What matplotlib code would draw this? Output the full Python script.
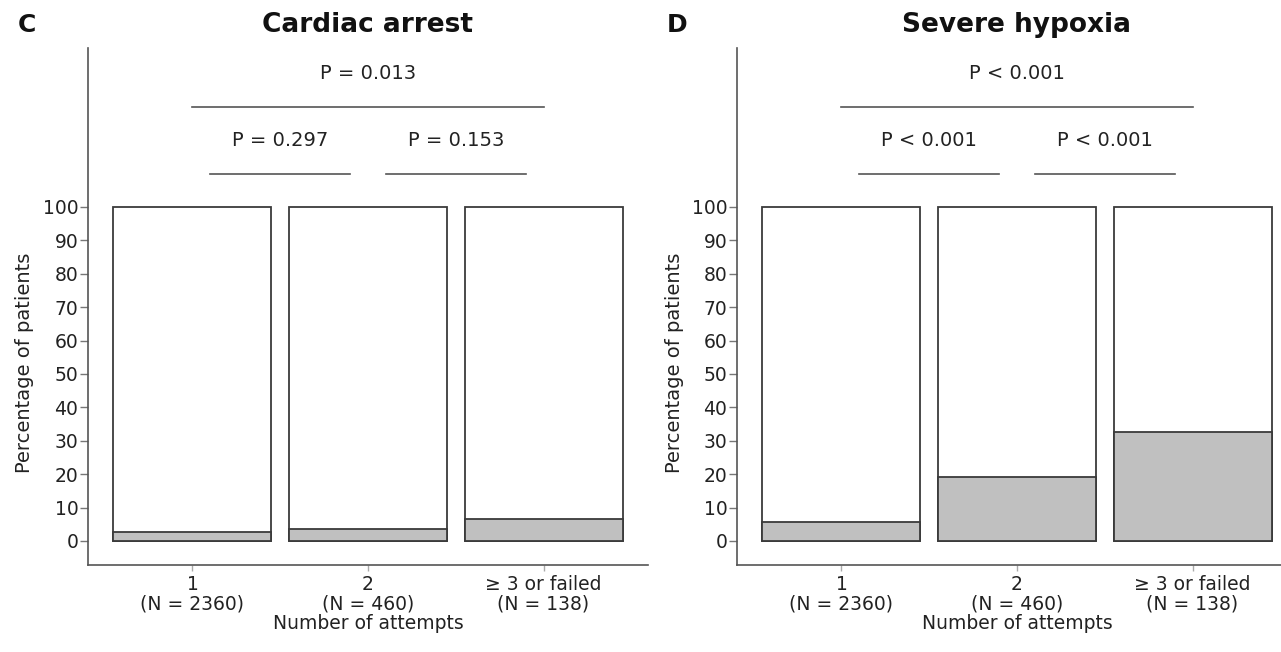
import matplotlib
matplotlib.use("Agg")
import matplotlib.pyplot as plt

# Data
attempt_labels = ["1\n(N = 2360)", "2\n(N = 460)", "\u2265 3 or failed\n(N = 138)"]
cardiac_arrest_pct = [2.8, 3.6, 6.7]
severe_hypoxia_pct = [5.8, 19.0, 32.5]
cardiac_p_pairs = ["P = 0.297", "P = 0.153"]
cardiac_p_overall = "P = 0.013"
hypoxia_p_pairs = ["P < 0.001", "P < 0.001"]
hypoxia_p_overall = "P < 0.001"
yticks = list(range(0, 101, 10))

plt.rcParams["font.family"] = ["DejaVu Sans"]

W, H = 1281, 652
fig = plt.figure(figsize=(W / 100, H / 100), dpi=100)

EDGE = "#3a3a3a"
AXC = "#555555"
GREY = "#c0c0c0"


def panel(left_px, values, p_pairs, p_overall, title, letter, letter_x):
    ax = fig.add_axes([left_px / W, (H - 565) / H, 560 / W, 517 / H])
    x = list(range(len(values)))
    ax.bar(x, [100] * len(values), width=0.9, color="white",
           edgecolor=EDGE, linewidth=1.3, zorder=2)
    ax.bar(x, values, width=0.9, color=GREY,
           edgecolor=EDGE, linewidth=1.3, zorder=3)
    ax.set_xlim(-0.595, 2.595)
    ax.set_ylim(-7.2, 147.6)
    ax.set_yticks(yticks)
    ax.set_xticks(x)
    ax.set_xticklabels(attempt_labels, fontsize=13.5, linespacing=1.0)
    ax.tick_params(axis="y", labelsize=13.5, length=5.5, width=1, color="#777777",
                   pad=1.5, labelcolor="#222222")
    ax.tick_params(axis="x", length=4, width=1, color="#aaaaaa", pad=3.5,
                   labelcolor="#222222")
    for s in ("top", "right"):
        ax.spines[s].set_visible(False)
    for s in ("left", "bottom"):
        ax.spines[s].set_color(AXC)
        ax.spines[s].set_linewidth(1.2)

    # significance brackets
    ax.plot([0, 2], [130, 130], color=AXC, lw=1.2, clip_on=False)
    ax.plot([0.1, 0.9], [110, 110], color=AXC, lw=1.2, clip_on=False)
    ax.plot([1.1, 1.9], [110, 110], color=AXC, lw=1.2, clip_on=False)
    ax.text(1, 140, p_overall, ha="center", va="center", fontsize=14, color="#222222")
    ax.text(0.5, 120, p_pairs[0], ha="center", va="center", fontsize=14, color="#222222")
    ax.text(1.5, 120, p_pairs[1], ha="center", va="center", fontsize=14, color="#222222")

    ax.text(1, -0.114, "Number of attempts", transform=ax.get_xaxis_transform(),
            ha="center", va="center", fontsize=13.5, color="#222222")

    fig.text((left_px - 63) / W, 1 - 362.5 / H, "Percentage of patients",
             rotation=90, ha="center", va="center", fontsize=14, color="#222222")

    fig.text((left_px + 280) / W, 1 - 25 / H, title, ha="center", va="center",
             fontsize=19, fontweight="bold", color="#111111")
    fig.text(letter_x / W, 1 - 25 / H, letter, ha="center", va="center",
             fontsize=18, fontweight="bold", color="#111111")
    return ax


panel(88, cardiac_arrest_pct, cardiac_p_pairs, cardiac_p_overall,
      "Cardiac arrest", "C", 27)
panel(737, severe_hypoxia_pct, hypoxia_p_pairs, hypoxia_p_overall,
      "Severe hypoxia", "D", 677)

fig.savefig("out.png", dpi=100)
